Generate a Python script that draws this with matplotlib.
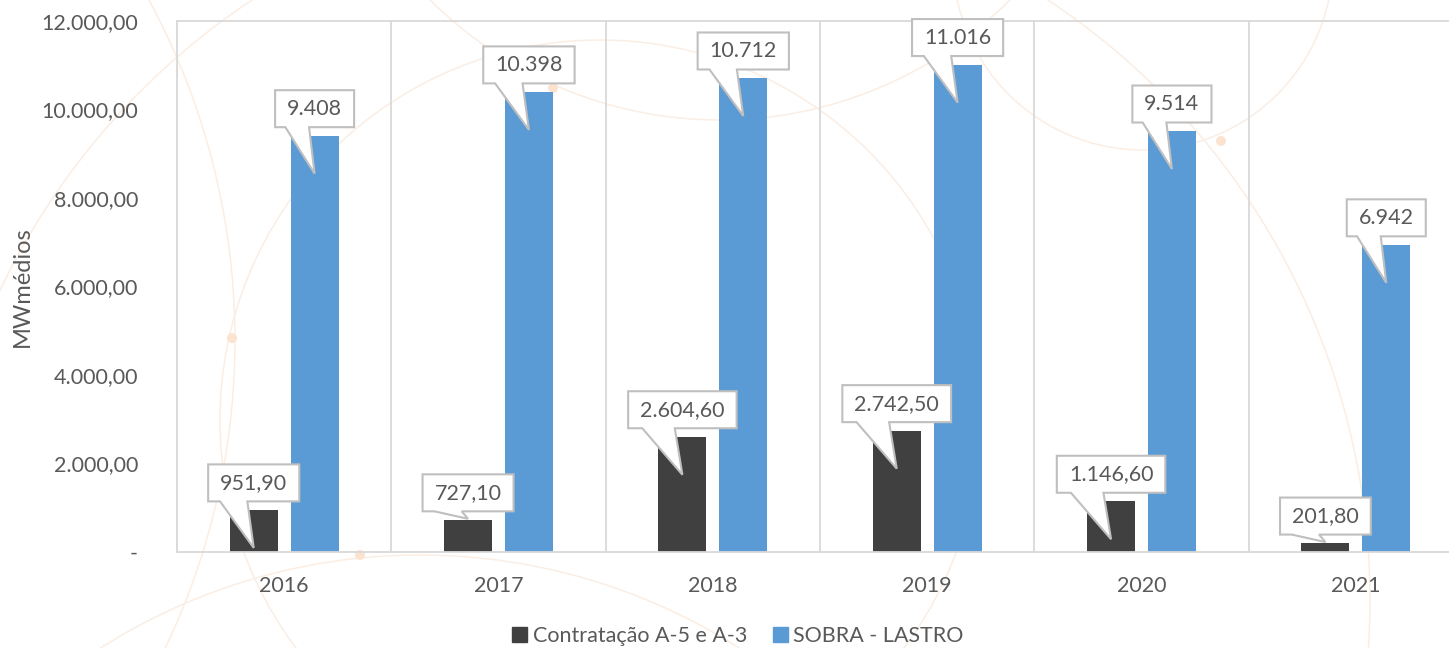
import matplotlib
matplotlib.use('Agg')
import matplotlib.pyplot as plt
from matplotlib.patches import Polygon, Circle, Patch
from matplotlib.transforms import IdentityTransform
import numpy as np

years = ['2016', '2017', '2018', '2019', '2020', '2021']
contratacao = [951.90, 727.10, 2604.60, 2742.50, 1146.60, 201.80]
sobra_lastro = [9408, 10398, 10712, 11016, 9514, 6942]
y_ticks = [0, 2000, 4000, 6000, 8000, 10000, 12000]

W, H = 1449, 648
dark = '#404040'
blue = '#5B9BD5'
txt = '#595959'
grid_c = '#d9d9d9'
plt.rcParams['font.family'] = ['Lato', 'DejaVu Sans']


def fmt_br(v, dec):
    s = f"{v:,.{dec}f}"
    return s.replace(',', 'X').replace('.', ',').replace('X', '.')


fig = plt.figure(figsize=(W / 100, H / 100), dpi=100)
fig.patch.set_facecolor('white')

# faint decorative circles in the background (pixel coords, y from top)
deco = [(-480, 340, 715), (1143, -40, 190), (720, -290, 410), (650, 600, 720),
        (420, 1150, 595), (600, 420, 380)]
for cx, cy, r in deco:
    fig.add_artist(Circle((cx, H - cy), r, transform=IdentityTransform(), fill=False,
                          ec='#faeee4', lw=1.1, zorder=-5))
for cx, cy in [(232, 338), (360, 555), (1221, 141), (553, 88)]:
    fig.add_artist(Circle((cx, H - cy), 5, transform=IdentityTransform(),
                          fc='#fce3d0', ec='none', zorder=-5))

ax = fig.add_axes([177 / W, 96 / H, 1286 / W, 531 / H])
ax.patch.set_alpha(0)

x = np.arange(len(years))
bw = 0.224
b1 = ax.bar(x - 0.142, contratacao, bw, color=dark, zorder=2)
b2 = ax.bar(x + 0.142, sobra_lastro, bw, color=blue, zorder=2)

ax.set_xlim(-0.5, len(years) - 0.5)
ax.set_ylim(0, 12000)
ax.set_yticks(y_ticks)
ax.set_yticklabels(['-' if v == 0 else fmt_br(v, 2) for v in y_ticks])
ax.set_xticks(x)
ax.set_xticklabels(years)
ax.set_xticks(np.arange(len(years) + 1) - 0.5, minor=True)
ax.grid(which='minor', axis='x', color=grid_c, lw=1.3)
ax.tick_params(which='both', length=0)
ax.tick_params(axis='y', pad=28, labelsize=15.5, labelcolor=txt)
ax.tick_params(axis='x', pad=17, labelsize=15.5, labelcolor=txt)
for s in ['left', 'top', 'bottom', 'right']:
    ax.spines[s].set_color(grid_c)
    ax.spines[s].set_linewidth(1.3)

ax.set_ylabel('MWmédios', fontsize=17, color=txt, labelpad=6)

fig.legend(handles=[Patch(color=dark, label='Contratação A-5 e A-3'),
                    Patch(color=blue, label='SOBRA - LASTRO')],
           loc='center', bbox_to_anchor=(738 / W, 12 / H), ncol=2, frameon=False,
           fontsize=15.5, handlelength=0.7, handleheight=0.7, handletextpad=0.25,
           columnspacing=1.2, labelcolor=txt)

fig.canvas.draw()
renderer = fig.canvas.get_renderer()
base_y = ax.transData.transform((0, 0))[1]


def callout(xc, val, label):
    px, py = ax.transData.transform((xc, val))
    cy = py + 27
    t = fig.text(px / W, cy / H, label, ha='center', va='center', fontsize=15.5,
                 color=txt, zorder=11)
    tw = t.get_window_extent(renderer).width
    bw_px = tw + 24
    l, r = px - bw_px / 2, px + bw_px / 2
    bot, top = cy - 18.5, cy + 18.5
    tip_y = py - 38 if py - 38 >= base_y + 3 else py + 1
    bl = l + 0.13 * bw_px
    br = l + 0.43 * bw_px
    verts = [(l, top), (r, top), (r, bot), (br, bot), (px, tip_y), (bl, bot), (l, bot)]
    fig.add_artist(Polygon(verts, closed=True, transform=IdentityTransform(),
                           fc='white', ec='#bfbfbf', lw=1.5, zorder=10))


for i in range(len(years)):
    callout(x[i] - 0.142, contratacao[i], fmt_br(contratacao[i], 2))
    callout(x[i] + 0.142, sobra_lastro[i], fmt_br(sobra_lastro[i], 0))

fig.savefig('out.png', dpi=100)
